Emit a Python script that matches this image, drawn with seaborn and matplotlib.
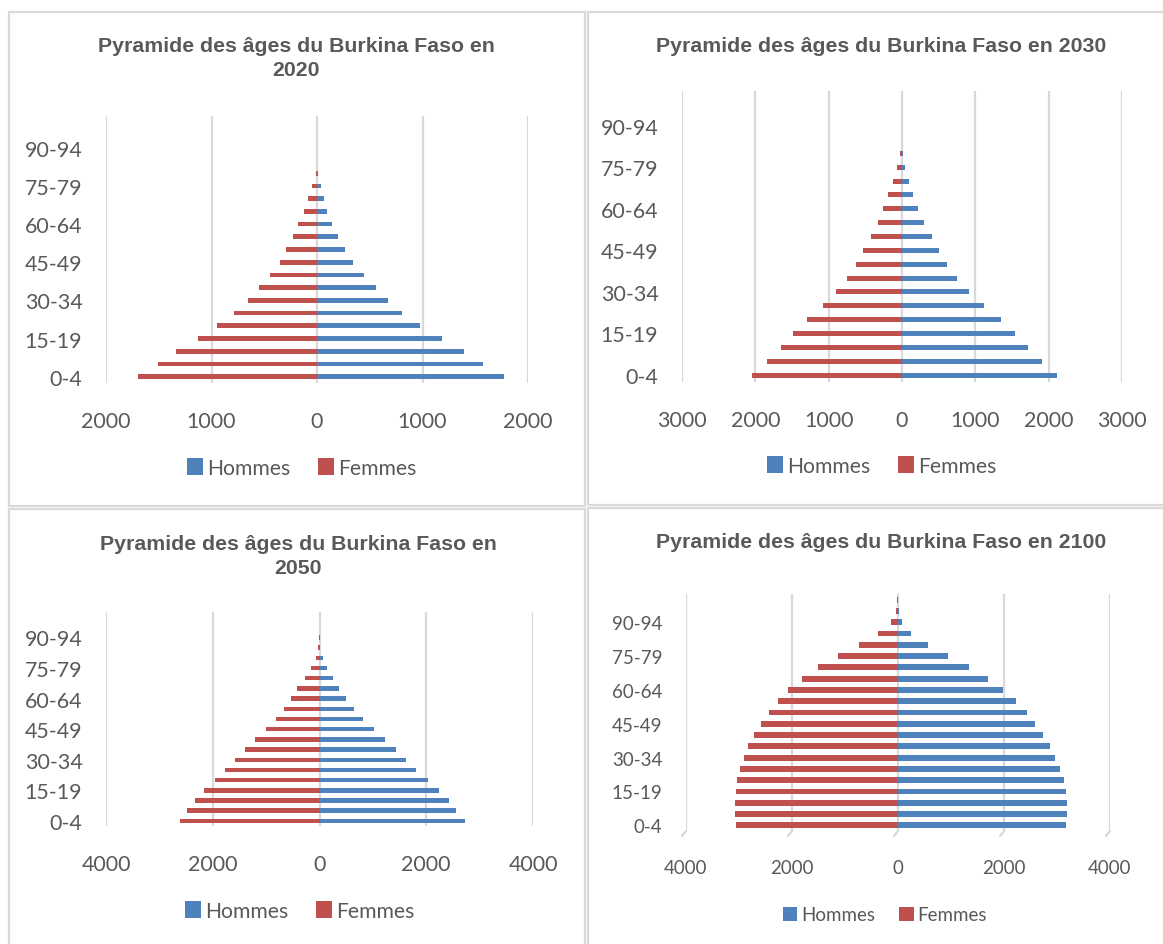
import matplotlib
matplotlib.use("Agg")
import matplotlib.pyplot as plt
from matplotlib.patches import Rectangle, Patch
from matplotlib.lines import Line2D
from matplotlib.ticker import FuncFormatter
import pandas as pd
import seaborn as sns

# Age groups (5-year bands), youngest first
age_groups = ["0-4", "5-9", "10-14", "15-19", "20-24", "25-29", "30-34",
              "35-39", "40-44", "45-49", "50-54", "55-59", "60-64", "65-69",
              "70-74", "75-79", "80-84", "85-89", "90-94", "95-99", "100+"]
shown_labels = ["0-4", "15-19", "30-34", "45-49", "60-64", "75-79", "90-94"]

# Population in thousands
hommes_2020 = [1775, 1573, 1394, 1182, 980, 808, 671, 557, 443, 339, 267,
               195, 143, 94, 65, 39, 10, 4, 0, 0, 0]
femmes_2020 = [1700, 1511, 1332, 1127, 945, 785, 655, 554, 450, 355, 290,
               228, 176, 127, 88, 52, 14, 3, 0, 0, 0]

hommes_2030 = [2117, 1908, 1718, 1543, 1348, 1119, 915, 754, 618, 511, 404,
               297, 219, 151, 92, 44, 8, 2, 0, 0, 0]
femmes_2030 = [2039, 1835, 1650, 1484, 1299, 1080, 900, 745, 623, 530, 423,
               331, 258, 185, 127, 73, 25, 5, 0, 0, 0]

hommes_2050 = [2720, 2565, 2423, 2242, 2036, 1816, 1616, 1428, 1234, 1015,
               821, 653, 504, 368, 246, 136, 58, 13, 0, 0, 0]
femmes_2050 = [2611, 2475, 2326, 2158, 1964, 1764, 1577, 1396, 1215, 1002,
               821, 659, 530, 414, 278, 155, 71, 26, 5, 0, 0]

hommes_2100 = [3173, 3193, 3193, 3173, 3126, 3066, 2971, 2864, 2736, 2588,
               2427, 2232, 1983, 1694, 1338, 948, 558, 249, 74, 13, 5]
femmes_2100 = [3052, 3072, 3079, 3066, 3032, 2985, 2911, 2824, 2716, 2582,
               2440, 2272, 2077, 1815, 1506, 1136, 739, 370, 134, 47, 20]

years = ["2020", "2030", "2050", "2100"]
hommes = [hommes_2020, hommes_2030, hommes_2050, hommes_2100]
femmes = [femmes_2020, femmes_2030, femmes_2050, femmes_2100]
x_limits = [2000, 3000, 4000, 4000]
x_steps = [1000, 1000, 2000, 2000]

BLUE = "#4F81BD"
RED = "#C0504D"
TEXT = "#595959"
GRID = "#D9D9D9"

W, H, DPI = 1163, 945, 100

sns.set_theme(style="white")
plt.rcParams["font.family"] = ["Lato", "DejaVu Sans"]

fig = plt.figure(figsize=(W / DPI, H / DPI), dpi=DPI)
fig.patch.set_facecolor("white")


def fig_xy(x, y):
    return x / W, 1 - y / H


# panel layout in pixels: axes box, title lines, legend centre, sizes
panels = [
    dict(box=(106, 117, 528, 384), title=[(296, 46), (296, 71)], wrap=True,
         legend=(302, 469), bw=0.38, tick_fs=15.4, leg_fs=15.2, floor=False),
    dict(box=(682, 92, 1122, 383), title=[(881, 46)], wrap=False,
         legend=(882, 467), bw=0.36, tick_fs=15.4, leg_fs=15.2, floor=False),
    dict(box=(106, 613, 533, 827), title=[(298, 545), (298, 568)], wrap=True,
         legend=(300, 912), bw=0.44, tick_fs=15.4, leg_fs=15.2, floor=False),
    dict(box=(686, 595, 1110, 832), title=[(881, 543)], wrap=False,
         legend=(885, 916), bw=0.52, tick_fs=13.5, leg_fs=13.5, floor=True),
]

# panel frames
frames = [(9, 13, 585, 507), (588, 13, 1170, 506),
          (9, 510, 585, 950), (588, 509, 1170, 950)]
for x0, y0, x1, y1 in frames:
    fx, fy = fig_xy(x0, y1)
    fig.add_artist(Rectangle((fx, fy), (x1 - x0) / W, (y1 - y0) / H,
                             transform=fig.transFigure, fill=False,
                             edgecolor=GRID, linewidth=1.6))

order = age_groups[::-1]

for i, spec in enumerate(panels):
    x0, y0, x1, y1 = spec["box"]
    fx, fy = fig_xy(x0, y1)
    ax = fig.add_axes([fx, fy, (x1 - x0) / W, (y1 - y0) / H])

    df = pd.DataFrame({"age": age_groups,
                       "Hommes": hommes[i],
                       "Femmes": [-v for v in femmes[i]]})
    sns.barplot(data=df, x="Hommes", y="age", order=order, orient="h",
                color=BLUE, saturation=1, width=spec["bw"], linewidth=0,
                ax=ax)
    sns.barplot(data=df, x="Femmes", y="age", order=order, orient="h",
                color=RED, saturation=1, width=spec["bw"], linewidth=0,
                ax=ax)

    lim = x_limits[i]
    step = x_steps[i]
    ticks = list(range(-lim, lim + 1, step))
    ax.set_xlim(-lim, lim)
    ax.set_ylim(len(order) - 0.5, -0.5)
    ax.set_xticks(ticks)
    ax.xaxis.set_major_formatter(FuncFormatter(lambda v, _: f"{abs(int(v))}"))
    ax.set_yticks([order.index(lbl) for lbl in shown_labels])
    ax.set_yticklabels(shown_labels)
    ax.set_xlabel("")
    ax.set_ylabel("")
    ax.grid(axis="x", color=GRID, linewidth=1.6)
    ax.grid(axis="y", visible=False)
    ax.set_axisbelow(True)
    for s in ax.spines.values():
        s.set_visible(False)
    ax.tick_params(axis="both", length=0, colors=TEXT,
                   labelsize=spec["tick_fs"])
    ax.tick_params(axis="x", pad=20)
    ax.tick_params(axis="y", pad=17)
    ax.set_facecolor("none")

    # short floor strokes at the foot of each gridline (3-D chart style)
    if spec["floor"]:
        for t in ticks:
            gx = x0 + (t + lim) / (2 * lim) * (x1 - x0)
            p0 = fig_xy(gx, y1)
            p1 = fig_xy(gx - 4, y1 + 5)
            fig.add_artist(Line2D([p0[0], p1[0]], [p0[1], p1[1]],
                                  transform=fig.transFigure, color=GRID,
                                  linewidth=1.6))

    # title
    if spec["wrap"]:
        lines = ["Pyramide des âges du Burkina Faso en", years[i]]
    else:
        lines = [f"Pyramide des âges du Burkina Faso en {years[i]}"]
    for (tx, ty), line in zip(spec["title"], lines):
        fig.text(*fig_xy(tx, ty), line, ha="center", va="center",
                 fontsize=15.3, fontweight="bold", color=TEXT,
                 family=["Liberation Sans", "DejaVu Sans"])

    handles = [Patch(facecolor=BLUE, edgecolor="none", label="Hommes"),
               Patch(facecolor=RED, edgecolor="none", label="Femmes")]
    lx, ly = fig_xy(*spec["legend"])
    leg = ax.legend(handles=handles, loc="center", bbox_to_anchor=(lx, ly),
                    bbox_transform=fig.transFigure, ncol=2, frameon=False,
                    fontsize=spec["leg_fs"], handlelength=0.75,
                    handleheight=0.85, handletextpad=0.2, columnspacing=1.3,
                    borderpad=0)
    for t in leg.get_texts():
        t.set_color(TEXT)

fig.savefig("out.png", dpi=DPI, facecolor="white")
